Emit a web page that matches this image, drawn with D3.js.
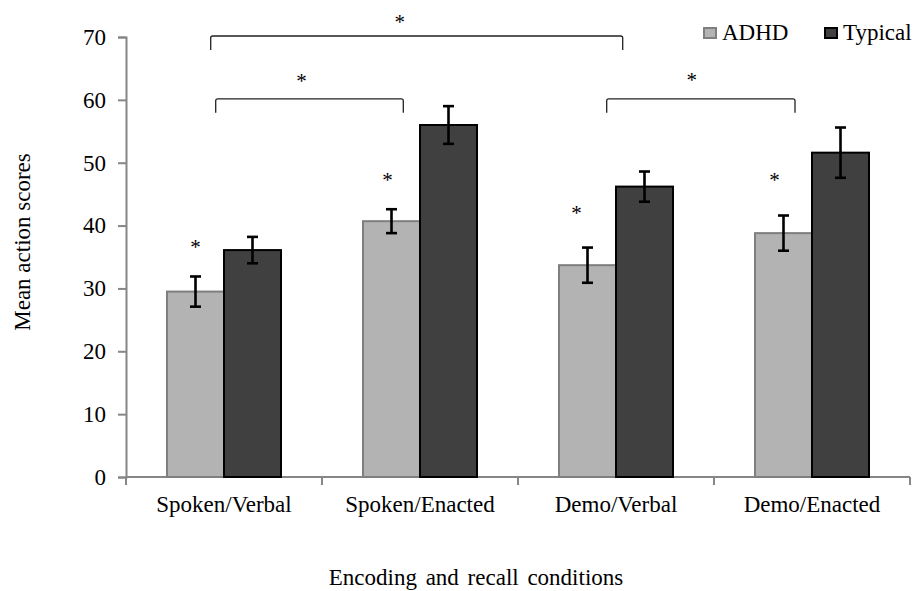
<!DOCTYPE html>
<html><head><meta charset="utf-8">
<script src="https://cdn.jsdelivr.net/npm/d3@7"></script>
<style>body{margin:0;background:#fff}svg{display:block}svg text{font-family:"Liberation Serif","Times New Roman",serif !important;fill:#000}</style>
</head><body><svg id="c" width="914" height="591"></svg>
<script>
const categories = ["Spoken/Verbal","Spoken/Enacted","Demo/Verbal","Demo/Enacted"];
const seriesNames = ["ADHD","Typical"];
const adhdMeans = [29.5, 40.7, 33.7, 38.8];
const adhdErrors = [2.4, 1.9, 2.8, 2.8];
const typicalMeans = [36.1, 56.0, 46.2, 51.6];
const typicalErrors = [2.1, 3.0, 2.4, 4.0];
const yTicks = [0,10,20,30,40,50,60,70];
const groupStars = [true, true, true, true];
// significance brackets between categories, at a y level
const brackets = [
  {from:0, to:2, level:70},
  {from:0, to:1, level:60},
  {from:2, to:3, level:60}
];

// styling / fine placement (pixels)
const bracketStyle = [
  {dx0:-13.3, dx1:6.7, starDx:-17, starDy:-8},
  {dx0:-8.3, dx1:-16.7, starDx:-8, starDy:-11.5},
  {dx0:-9.3, dx1:-17, starDx:-9, starDy:-12.5}
];
const starStyle = [{dx:0,dy:-22},{dx:-4,dy:-22.3},{dx:-11,dy:-27.3},{dx:-9,dy:-28.3}];

const fills = {ADHD:"#b3b3b3", Typical:"#404040"};
const strokes = {ADHD:"#7f7f7f", Typical:"#000"};
const FONT = "23px";

const svg = d3.select("#c");
const x = d3.scaleBand().domain(categories).range([126, 910]);
const y = d3.scaleLinear().domain([0,70]).range([477, 37]);
const groupW = 114;
const x1 = d3.scaleBand().domain(seriesNames).range([0, groupW]);
const groupOffset = (x.bandwidth() - groupW)/2;
const cx = i => x(categories[i]) + x.bandwidth()/2;

const data = categories.map((c,i)=>({cat:c, i, vals:[
  {s:"ADHD", v:adhdMeans[i], e:adhdErrors[i]},
  {s:"Typical", v:typicalMeans[i], e:typicalErrors[i]}]}));

// axes
const axisColor = "#868686";
const gy = svg.append("g").attr("transform","translate(126,0)")
  .call(d3.axisLeft(y).tickValues(yTicks).tickSize(8).tickPadding(12));
gy.attr("font-family",null).attr("font-size",null);
gy.select(".domain").attr("stroke",axisColor).attr("stroke-width",2);
gy.selectAll(".tick line").attr("stroke",axisColor).attr("stroke-width",2);
gy.selectAll(".tick text").style("font-size",FONT).attr("fill","#000");

const boundaries = d3.range(categories.length+1).map(i=>126 + i*x.bandwidth());
svg.append("line").attr("x1",126).attr("x2",910).attr("y1",y(0)).attr("y2",y(0)).attr("stroke",axisColor).attr("stroke-width",2);
svg.selectAll(".xt").data(boundaries).join("line").attr("x1",d=>d).attr("x2",d=>d)
  .attr("y1",y(0)).attr("y2",y(0)+8).attr("stroke",axisColor).attr("stroke-width",2);
svg.selectAll(".xl").data(categories).join("text")
  .attr("x",d=>x(d)+x.bandwidth()/2).attr("y",512).attr("text-anchor","middle")
  .style("font-size",FONT).text(d=>d);

// bars
const g = svg.selectAll(".grp").data(data).join("g")
  .attr("transform",d=>`translate(${x(d.cat)+groupOffset},0)`);
g.selectAll("rect").data(d=>d.vals).join("rect")
  .attr("x",d=>x1(d.s)).attr("width",x1.bandwidth())
  .attr("y",d=>y(d.v)).attr("height",d=>y(0)-y(d.v))
  .attr("fill",d=>fills[d.s]).attr("stroke",d=>strokes[d.s]).attr("stroke-width",2);
// error bars
const eb = g.selectAll(".eb").data(d=>d.vals).join("g");
eb.append("line").attr("x1",d=>x1(d.s)+x1.bandwidth()/2).attr("x2",d=>x1(d.s)+x1.bandwidth()/2)
  .attr("y1",d=>y(d.v+d.e)).attr("y2",d=>y(d.v-d.e)).attr("stroke","#000").attr("stroke-width",2.6);
eb.selectAll(".cap").data(d=>[{s:d.s,yy:d.v+d.e},{s:d.s,yy:d.v-d.e}]).join("line")
  .attr("x1",d=>x1(d.s)+x1.bandwidth()/2-5.5).attr("x2",d=>x1(d.s)+x1.bandwidth()/2+5.5)
  .attr("y1",d=>y(d.yy)).attr("y2",d=>y(d.yy)).attr("stroke","#000").attr("stroke-width",2.6);
// stars above ADHD bars
g.filter(d=>groupStars[d.i]).append("text")
  .attr("x",d=>x1("ADHD")+x1.bandwidth()/2+starStyle[d.i].dx)
  .attr("y",d=>y(d.vals[0].v+d.vals[0].e)+starStyle[d.i].dy)
  .attr("text-anchor","middle").style("font-size","21px").text("*");

// brackets
const bg = svg.selectAll(".br").data(brackets).join("g");
bg.append("path").attr("fill","none").attr("stroke","#222").attr("stroke-width",1.3)
  .attr("d",(d,i)=>{
    const s = bracketStyle[i];
    const x0 = cx(d.from)+s.dx0, xe = cx(d.to)+s.dx1;
    const yy = y(d.level)-1;
    return `M${x0},${yy+14} L${x0},${yy+2} Q${x0},${yy} ${x0+2},${yy} L${xe-2},${yy} Q${xe},${yy} ${xe},${yy+2} L${xe},${yy+14}`;
  });
bg.append("text").attr("text-anchor","middle").style("font-size","21px")
  .attr("x",(d,i)=>{const s=bracketStyle[i]; return (cx(d.from)+s.dx0+cx(d.to)+s.dx1)/2+s.starDx;})
  .attr("y",(d,i)=>y(d.level)+bracketStyle[i].starDy).text("*");

// legend
const lg = svg.selectAll(".lg").data(seriesNames).join("g")
  .attr("transform",(d,i)=>`translate(${704 + i*121},28)`);
lg.append("rect").attr("width",12).attr("height",10).attr("fill",d=>fills[d]).attr("stroke",d=>strokes[d]).attr("stroke-width",2);
lg.append("text").attr("x",18).attr("y",12).style("font-size",FONT).text(d=>d);

// axis titles
svg.append("text").attr("transform","translate(30,242) rotate(-90)").attr("text-anchor","middle")
  .style("font-size",FONT).text("Mean action scores");
svg.append("text").attr("x",476).attr("y",585).attr("text-anchor","middle")
  .style("font-size",FONT).style("word-spacing","3px").text("Encoding and recall conditions");
</script></body></html>
